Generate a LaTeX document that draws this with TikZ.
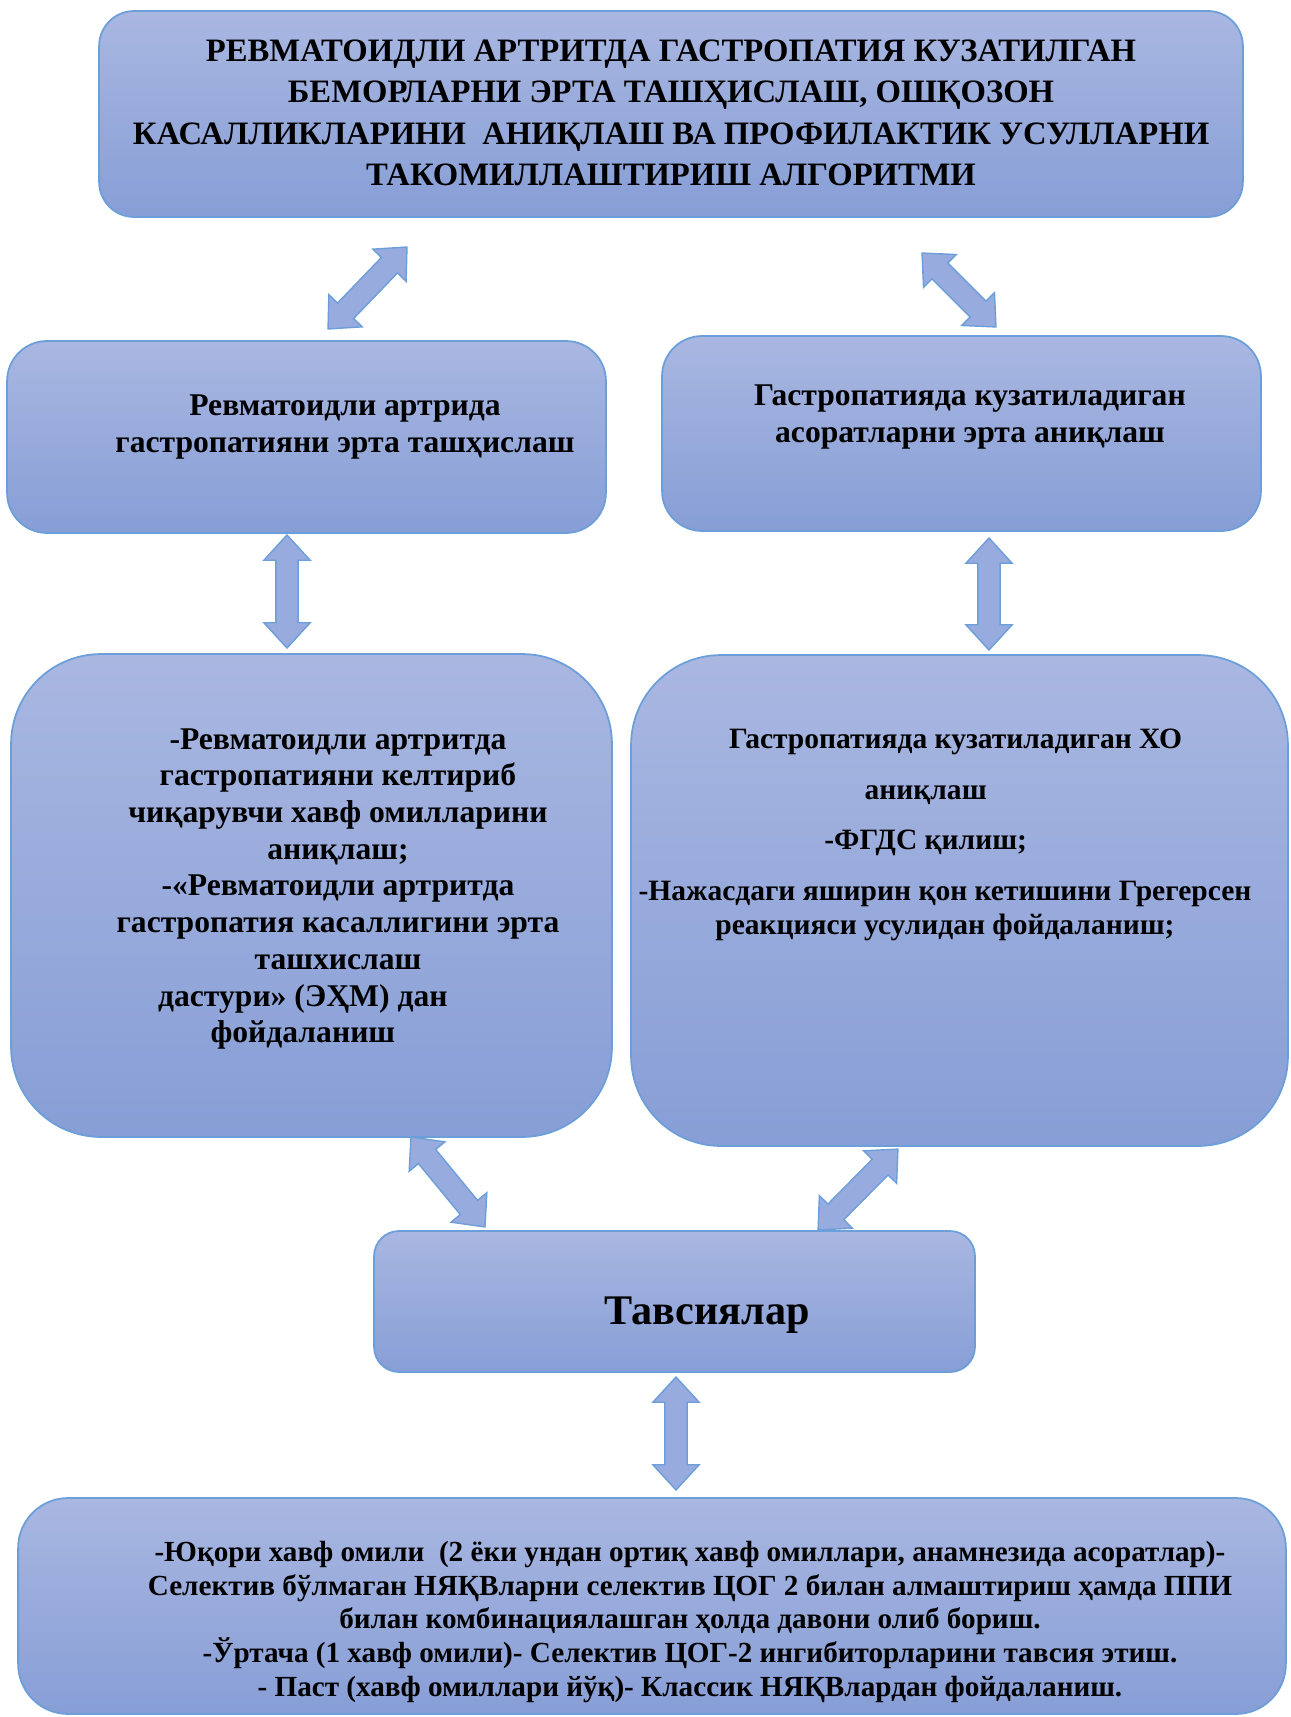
\documentclass[tikz,border=0pt]{standalone}
\usepackage{fontspec}
\setmainfont{Liberation Serif}
\usetikzlibrary{calc,shapes.arrows}

\definecolor{boxtop}{RGB}{169,183,225}
\definecolor{boxbot}{RGB}{135,158,214}
\definecolor{boxline}{RGB}{108,158,218}
\definecolor{linkfill}{RGB}{152,171,222}

% block arrow with two heads between two points
\newcommand{\dblarrow}[3]{%
  \path let \p1=($(#3)-(#2)$), \n1={atan2(\y1,\x1)}, \n2={veclen(\x1,\y1)} in
    node[link, rotate=\n1, minimum height=\n2] (#1) at ($(#2)!0.5!(#3)$) {};}

\begin{document}
\begin{tikzpicture}[x=0.02cm, y=-0.02cm,
    box/.style={rectangle, draw=boxline, line width=1pt, top color=boxtop,
                bottom color=boxbot, inner sep=0pt},
    txt/.style={align=center, text=black, inner sep=0pt},
    link/.style={double arrow, draw=boxline, line width=0.8pt, fill=linkfill,
                 inner xsep=0pt, inner ysep=5.95pt, minimum width=0.9cm,
                 double arrow head extend=0.24cm, double arrow tip angle=85}]
  \useasboundingbox (0,0) rectangle (1291,1717);

  \node[box, minimum width=22.88cm, minimum height=4.12cm, rounded corners=0.7cm] (title) at (671,114) {};
  \node[box, minimum width=11.98cm, minimum height=3.84cm, rounded corners=0.8cm] (diag)  at (306.5,437) {};
  \node[box, minimum width=11.98cm, minimum height=3.90cm, rounded corners=0.8cm] (compl) at (961.5,433.5) {};
  \node[box, minimum width=12.02cm, minimum height=9.66cm, rounded corners=1.8cm] (risk)  at (311.5,895.5) {};
  \node[box, minimum width=13.14cm, minimum height=9.82cm, rounded corners=1.8cm] (detect) at (959.5,900.5) {};
  \node[box, minimum width=12.02cm, minimum height=2.82cm, rounded corners=0.5cm] (recom) at (674.5,1301.5) {};
  \node[box, minimum width=25.36cm, minimum height=4.32cm, rounded corners=1cm]   (advice) at (652,1606) {};

  \node[txt, font=\fontsize{18.6}{23.6}\selectfont\bfseries] (titletext) at (671,113)
    {РЕВМАТОИДЛИ АРТРИТДА ГАСТРОПАТИЯ КУЗАТИЛГАН\\
     БЕМОРЛАРНИ ЭРТА ТАШҲИСЛАШ, ОШҚОЗОН\\
     КАСАЛЛИКЛАРИНИ\ \ АНИҚЛАШ ВА ПРОФИЛАКТИК УСУЛЛАРНИ\\
     ТАКОМИЛЛАШТИРИШ АЛГОРИТМИ};
  \node[txt, font=\fontsize{18}{21}\selectfont\bfseries] (diagtext) at (345,427)
    {Ревматоидли артрида\\ гастропатияни эрта ташҳислаш};
  \node[txt, font=\fontsize{18}{21}\selectfont\bfseries] (compltext) at (970,417)
    {Гастропатияда кузатиладиган\\ асоратларни эрта аниқлаш};
  \node[txt, font=\fontsize{18}{20.9}\selectfont\bfseries] (risktext) at (338,889)
    {-Ревматоидли артритда\\ гастропатияни келтириб\\ чиқарувчи хавф омилларини\\
     аниқлаш;\\ -«Ревматоидли артритда\\ гастропатия касаллигини эрта\\ ташхислаш\\
     дастури» (ЭҲМ) дан\hspace*{40pt}\mbox{}\\ фойдаланиш\hspace*{40pt}\mbox{}};
  \node[txt, font=\fontsize{16.8}{19.3}\selectfont\bfseries] (detecttext) at (945,835)
    {\hspace*{12pt}Гастропатияда кузатиладиган ХО\\[9.5pt]
     аниқлаш\hspace*{22pt}\mbox{}\\[9.5pt]
     -ФГДС қилиш;\hspace*{22pt}\mbox{}\\[9.5pt]
     -Нажасдаги яширин қон кетишини Грегерсен\\
     реакцияси усулидан фойдаланиш;};
  \node[txt, font=\fontsize{24}{28}\selectfont\bfseries] (recomtext) at (707,1315) {Тавсиялар};
  \node[txt, font=\fontsize{16.6}{19.2}\selectfont\bfseries] (advicetext) at (690,1622)
    {-Юқори хавф омили\ \ (2 ёки ундан ортиқ хавф омиллари, анамнезида асоратлар)-\\
     Селектив бўлмаган НЯҚВларни селектив ЦОГ 2 билан алмаштириш ҳамда ППИ\\
     билан комбинациялашган ҳолда давони олиб бориш.\\
     -Ўртача (1 хавф омили)- Селектив ЦОГ-2 ингибиторларини тавсия этиш.\\
     - Паст (хавф омиллари йўқ)- Классик НЯҚВлардан фойдаланиш.};

  % arrow ends
  \coordinate (l1a) at (328,329);   \coordinate (l1b) at (407,247);
  \coordinate (r1a) at (922,253);   \coordinate (r1b) at (996,327);
  \coordinate (l2a) at (287,535);   \coordinate (l2b) at (287,648);
  \coordinate (r2a) at (989,538);   \coordinate (r2b) at (989,650);
  \coordinate (l3a) at (411,1137);  \coordinate (l3b) at (485,1227);
  \coordinate (r3a) at (898,1149);  \coordinate (r3b) at (818,1230);
  \coordinate (m4a) at (676,1377);  \coordinate (m4b) at (676,1490);

  \dblarrow{linkl1}{l1a}{l1b}
  \dblarrow{linkr1}{r1a}{r1b}
  \dblarrow{linkl2}{l2a}{l2b}
  \dblarrow{linkr2}{r2a}{r2b}
  \dblarrow{linkl3}{l3a}{l3b}
  \dblarrow{linkr3}{r3a}{r3b}
  \dblarrow{linkm4}{m4a}{m4b}
\end{tikzpicture}
\end{document}
